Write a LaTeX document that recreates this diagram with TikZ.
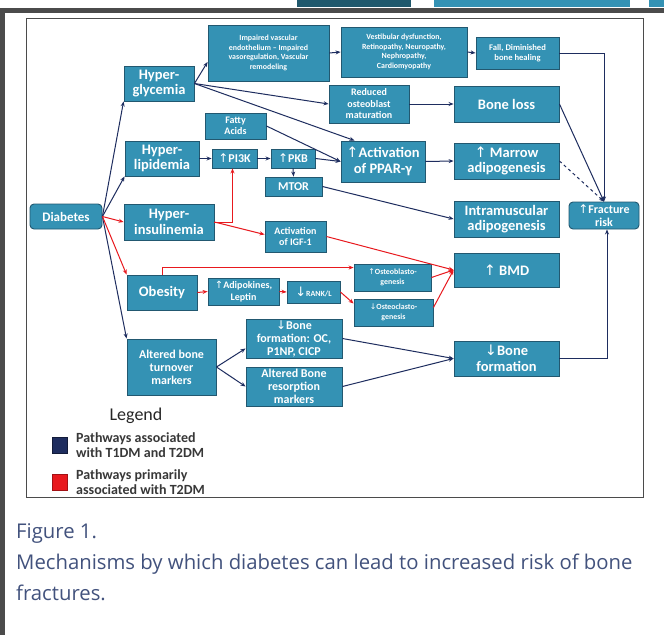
\documentclass[tikz,border=0pt]{standalone}
\usepackage{fontspec}
\setmainfont{Carlito}
\newfontfamily\capfont{Open Sans}
\newfontfamily\arrfont{DejaVu Sans}
\usetikzlibrary{arrows.meta}
\definecolor{boxfill}{RGB}{52,146,180}
\definecolor{boxline}{RGB}{34,88,112}
\definecolor{pathblue}{RGB}{30,45,95}
\definecolor{pathred}{RGB}{232,25,30}
\definecolor{captext}{RGB}{66,82,125}
\definecolor{framegray}{RGB}{75,75,75}
\newcommand{\upar}{{\arrfont\mdseries ↑}}
\newcommand{\dnar}{{\arrfont\mdseries ↓}}

\begin{document}
\begin{tikzpicture}[x=1pt,y=-1pt,
  box/.style={draw=boxline,fill=boxfill,text=white,align=center,inner sep=1pt,line width=0.9pt},
  sz/.style 2 args={minimum width=#1pt,minimum height=#2pt},
  big/.style={font=\bfseries\fontsize{14.5}{15.5}\selectfont},
  mid/.style={font=\bfseries\fontsize{12}{13}\selectfont},
  small/.style={font=\bfseries\fontsize{10}{11.5}\selectfont},
  tiny/.style={font=\bfseries\fontsize{7.9}{9.6}\selectfont},
  bl/.style={draw=pathblue,line width=1pt,-{Stealth[length=5pt,width=4pt]}},
  rd/.style={draw=pathred,line width=1pt,-{Stealth[length=5pt,width=4pt]}}]
\useasboundingbox (0,0) rectangle (664,635);
\fill[white] (0,0) rectangle (664,635);
% page frame
\fill[boxfill!60!black] (297,0) rectangle (411,7);
\fill[boxfill] (434,0) rectangle (630,7);
\fill[boxfill] (649,0) rectangle (664,7);
\fill[framegray] (0,8) rectangle (664,13);
\fill[framegray] (0,8) rectangle (5,635);
\draw[framegray,line width=0.8pt] (26,18) rectangle (643,497);

% boxes
\node[box,font=\bfseries\fontsize{13}{14}\selectfont,sz={72}{25},rounded corners=4pt] (dia) at (66,216.5) {Diabetes};
\node[box,big,sz={70}{35}] (hyg) at (159,83.5) {Hyper-\\glycemia};
\node[box,tiny,sz={121}{56}] (vasc) at (268.5,53) {Impaired vascular\\endothelium -- Impaired\\vasoregulation, Vascular\\remodeling};
\node[box,tiny,sz={126}{50}] (vest) at (404,52) {Vestibular dysfunction,\\Retinopathy, Neuropathy,\\Nephropathy,\\Cardiomyopathy};
\node[box,font=\bfseries\fontsize{8.6}{10.5}\selectfont,sz={83}{32}] (fall) at (517.5,53) {Fall, Diminished\\bone healing};
\node[box,small,sz={80}{38}] (redu) at (369,104) {Reduced\\osteoblast\\maturation};
\node[box,big,sz={105}{36}] (bloss) at (506.5,104) {Bone loss};
\node[box,small,sz={61}{26}] (fatty) at (235.5,126) {Fatty\\Acids};
\node[box,big,sz={74}{35}] (hyl) at (162,158.5) {Hyper-\\lipidemia};
\node[box,mid,sz={45}{19}] (pik) at (234.5,158.5) {\upar PI3K};
\node[box,mid,sz={44}{19}] (pkb) at (293,158.5) {\upar PKB};
\node[box,mid,sz={57}{19}] (mtor) at (293.5,186.5) {MTOR};
\node[box,big,sz={84}{41}] (ppar) at (383,161.5) {\upar Activation\\of PPAR-γ};
\node[box,big,sz={105}{36}] (marrow) at (506.5,161) {\upar\ Marrow\\adipogenesis};
\node[box,big,sz={105}{36}] (intra) at (506.5,219) {Intramuscular\\adipogenesis};
\node[box,mid,sz={70}{27},rounded corners=4pt] (frac) at (604,215.5) {\upar Fracture\\risk};
\node[box,big,sz={90}{36}] (hyi) at (169,222) {Hyper-\\insulinemia};
\node[box,small,sz={61}{31}] (igf) at (295.5,236.5) {Activation\\of IGF-1};
\node[box,big,sz={70}{35}] (obes) at (162,292.5) {Obesity};
\node[box,small,sz={71}{27}] (adip) at (243.5,291.5) {\upar Adipokines,\\Leptin};
\node[box,tiny,sz={53}{22}] (rank) at (313.5,292) {{\fontsize{13}{13}\dnar}RANK/L};
\node[box,tiny,sz={77}{27}] (oblast) at (392.5,277.5) {\upar Osteoblasto-\\genesis};
\node[box,tiny,sz={79}{27}] (oclast) at (393.5,312.5) {\dnar Osteoclasto-\\genesis};
\node[box,big,sz={105}{34}] (bmd) at (506.5,270) {\upar\ BMD};
\node[box,mid,sz={96}{39}] (bfoc) at (294,338.5) {\dnar Bone\\formation: OC,\\P1NP, CICP};
\node[box,mid,sz={96}{39}] (resorp) at (294,386.5) {Altered Bone\\resorption\\markers};
\node[box,mid,sz={89}{56}] (turn) at (171.5,367) {Altered bone\\turnover\\markers};
\node[box,big,sz={105}{35}] (bform) at (506.5,358.5) {\dnar Bone\\formation};

% blue pathways
\draw[bl] (dia.east) to (hyg.south west);
\draw[bl] (dia.east) to (hyl.south west);
\draw[bl] (dia.east) to (turn.north west);
\draw[bl] (hyg.east) to ([yshift=-9pt]vasc.west);
\draw[bl] (hyg.east) to (redu.west);
\draw[bl] (hyg.east) to ([xshift=14pt]ppar.north west);
\draw[bl] (vasc.east) to (vest.west);
\draw[bl] (vest.east) to (fall.west);
\draw[bl] (fall.east) -| (frac.north);
\draw[bl] (redu.east) to (bloss.west);
\draw[bl] (bloss.east) to (frac.north);
\draw[bl,dashed] (marrow.east) to (frac.north);
\draw[bl] (fatty.east) to (ppar.west);
\draw[bl] (hyl.east) to (pik.west);
\draw[bl] (pik.east) to (pkb.west);
\draw[bl] (pkb.south) to (mtor.north);
\draw[bl] (pkb.east) to (ppar.west);
\draw[bl] (mtor.east) to (intra.west);
\draw[bl] (ppar.east) to (marrow.west);
\draw[bl] (turn.east) to ([yshift=-10pt]bfoc.west);
\draw[bl] (turn.east) to (resorp.west);
\draw[bl] (bfoc.east) to (bform.west);
\draw[bl] (resorp.east) to (bform.west);
\draw[bl] (bform.east) -| ([xshift=3pt]frac.south);

% red pathways
\draw[rd] (dia.east) to (hyi.west);
\draw[rd] (dia.east) to (obes.north west);
\draw[rd] (hyi.east) -| ([xshift=-2pt]pik.south);
\draw[rd] (hyi.east) to ([yshift=2pt]igf.west);
\draw[rd] (igf.east) to (bmd.west);
\draw[rd] (obes.north) |- ([yshift=-4pt]oblast.north west);
\draw[rd] (obes.east) to (adip.west);
\draw[rd] (adip.east) to (rank.west);
\draw[rd] (rank.east) to ([yshift=9pt]oclast.west);
\draw[rd] (oblast.east) to (bmd.west);
\draw[rd] ([yshift=5pt]oclast.east) to (bmd.west);

% legend
\node[font=\fontsize{18}{18}\selectfont,text=black!85] (leg) at (136,416) {Legend};
\node[draw=pathblue!60!black,fill=pathblue,sz={15}{16},inner sep=0pt] (sqb) at (60,445) {};
\node[draw=pathred!70!black,fill=pathred,sz={15}{16},inner sep=0pt] (sqr) at (60,482) {};
\node[right=5pt,font=\bfseries\fontsize{14}{15.5}\selectfont,text=black!78,align=left] (legb) at (sqb.east) {Pathways associated\\with T1DM and T2DM};
\node[right=5pt,font=\bfseries\fontsize{14}{15.5}\selectfont,text=black!78,align=left] (legr) at (sqr.east) {Pathways primarily\\associated with T2DM};

% caption
\node[anchor=base west,inner sep=0pt,font=\capfont\fontsize{20.3}{22}\selectfont,text=captext] (cap1) at (16,538) {Figure 1.};
\node[anchor=base west,inner sep=0pt,font=\capfont\fontsize{20.3}{22}\selectfont,text=captext] (cap2) at (16,569) {Mechanisms by which diabetes can lead to increased risk of bone};
\node[anchor=base west,inner sep=0pt,font=\capfont\fontsize{20.3}{22}\selectfont,text=captext] (cap3) at (16,600) {fractures.};
\end{tikzpicture}
\end{document}
